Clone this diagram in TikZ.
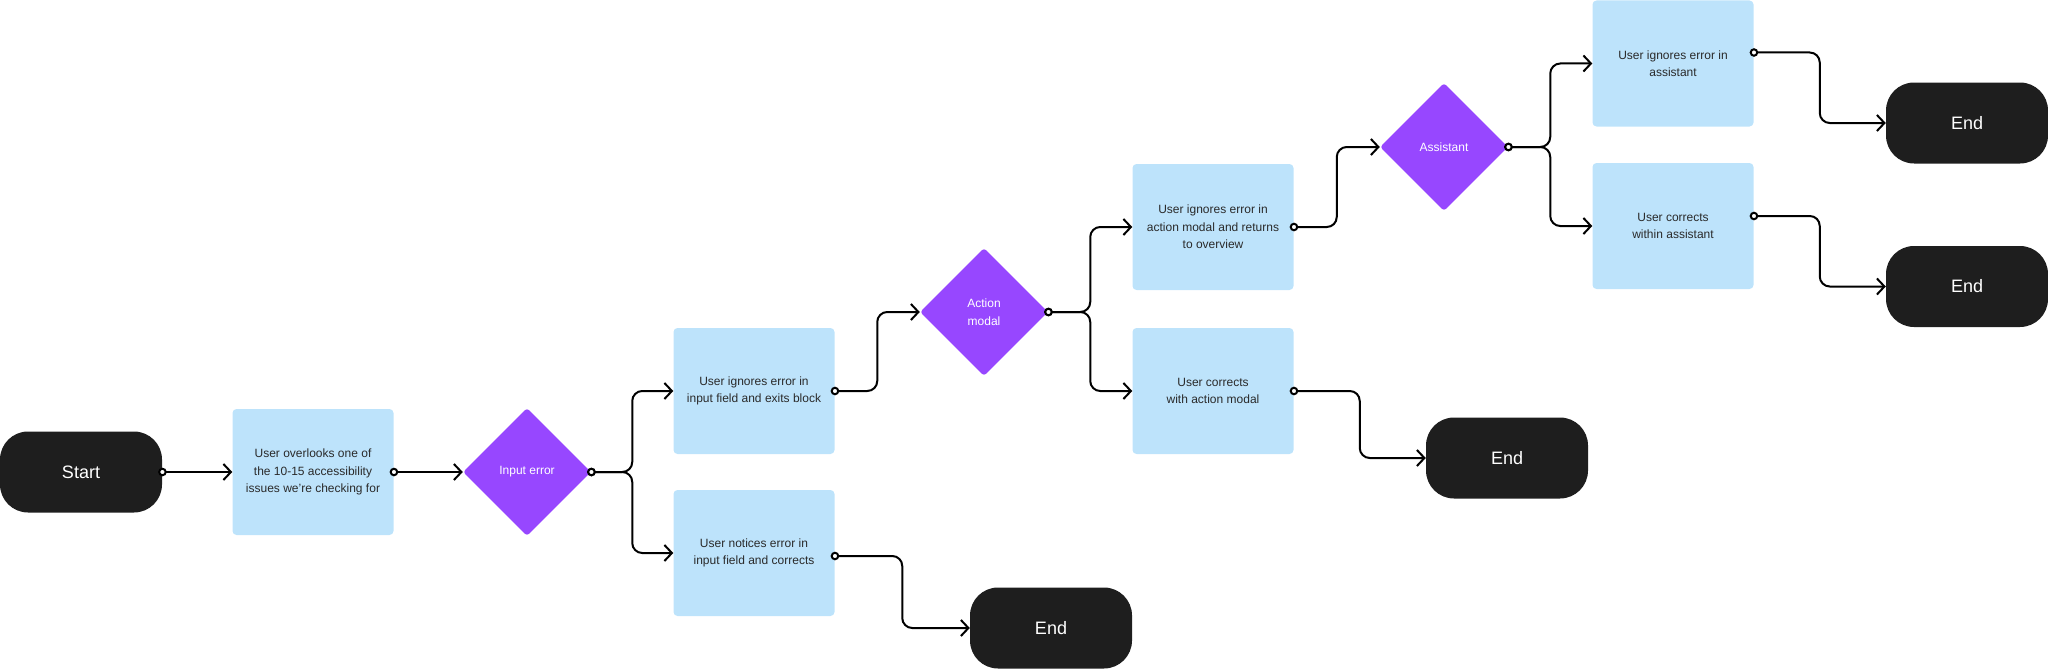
\documentclass[tikz,border=0pt]{standalone}
\usepackage{fontspec}
\setmainfont{Liberation Sans}
\usetikzlibrary{arrows.meta,shapes.geometric,calc}

\definecolor{termfill}{HTML}{1E1E1E}
\definecolor{stepfill}{HTML}{BDE3FB}
\definecolor{stepink}{HTML}{2A2A2A}
\definecolor{choicefill}{HTML}{9747FF}

\begin{document}
\begin{tikzpicture}[x=1pt,y=-1pt,
  terminal/.style={fill=termfill,text=white,rounded corners=28pt,minimum width=162pt,minimum height=81pt,inner sep=0pt,font=\fontsize{18}{22}\selectfont},
  stepbox/.style={fill=stepfill,text=stepink,rounded corners=4pt,minimum width=161pt,minimum height=126pt,inner sep=0pt,align=center,font=\fontsize{12}{17.5}\selectfont},
  choice/.style={diamond,fill=choicefill,text=white,minimum width=128pt,minimum height=128pt,inner sep=0pt,rounded corners=3pt,align=center,font=\fontsize{12}{17.5}\selectfont},
  flow/.style={line width=2pt,rounded corners=10pt,shorten <=-4pt,
    {Circle[open,length=8.5pt,width=8.5pt,fill=white]}-{Straight Barb[length=7.5pt,width=16pt]}},
  elbow/.style={to path={-| ($(\tikztostart)!0.5!(\tikztotarget)$) |- (\tikztotarget) \tikztonodes}}]

  \useasboundingbox (0,0) rectangle (2048,669);

  % Start and first step
  \node[terminal] (start) at (81,472) {Start};
  \node[stepbox] (overlook) at (313,472) {User overlooks one of\\the 10-15 accessibility\\issues we're checking for};

  % Input error branch
  \node[choice] (inerr) at (527,472) {Input error};
  \node[stepbox] (inignore) at (754,391) {User ignores error in\\input field and exits block};
  \node[stepbox] (innotice) at (754,553) {User notices error in\\input field and corrects};

  % Action modal branch
  \node[choice] (modal) at (984,312) {Action\\modal};
  \node[stepbox] (modignore) at (1213,227) {User ignores error in\\action modal and returns\\to overview};
  \node[stepbox] (modfix) at (1213,391) {User corrects\\with action modal};

  % Assistant branch
  \node[choice] (assist) at (1444,147) {Assistant};
  \node[stepbox] (asignore) at (1673,63.5) {User ignores error in\\assistant};
  \node[stepbox] (asfix) at (1673,226) {User corrects\\within assistant};

  % End points
  \foreach \n/\x/\y in {endin/1051/628, endmod/1507/458, endasa/1967/123, endasb/1967/286.5}
    \node[terminal] (\n) at (\x,\y) {End};

  \coordinate (asignoreout) at ([yshift=11pt]asignore.east);
  \coordinate (asfixout) at ([yshift=10pt]asfix.east);
  \coordinate (innoticeout) at ([yshift=-3pt]innotice.east);

  % Connectors
  \draw[flow] (start.east) -- (overlook.west);
  \draw[flow] (overlook.east) -- (inerr.west);
  \draw[flow] (inerr.east) to[elbow] (inignore.west);
  \draw[flow] (inerr.east) to[elbow] (innotice.west);
  \draw[flow] (innoticeout) to[elbow] (endin.west);
  \draw[flow] (inignore.east) to[elbow] (modal.west);
  \draw[flow] (modal.east) to[elbow] (modignore.west);
  \draw[flow] (modal.east) to[elbow] (modfix.west);
  \draw[flow] (modfix.east) to[elbow] (endmod.west);
  \draw[flow] (modignore.east) to[elbow] (assist.west);
  \draw[flow] (assist.east) to[elbow] (asignore.west);
  \draw[flow] (assist.east) to[elbow] (asfix.west);
  \draw[flow] (asignoreout) to[elbow] (endasa.west);
  \draw[flow] (asfixout) to[elbow] (endasb.west);
\end{tikzpicture}
\end{document}
